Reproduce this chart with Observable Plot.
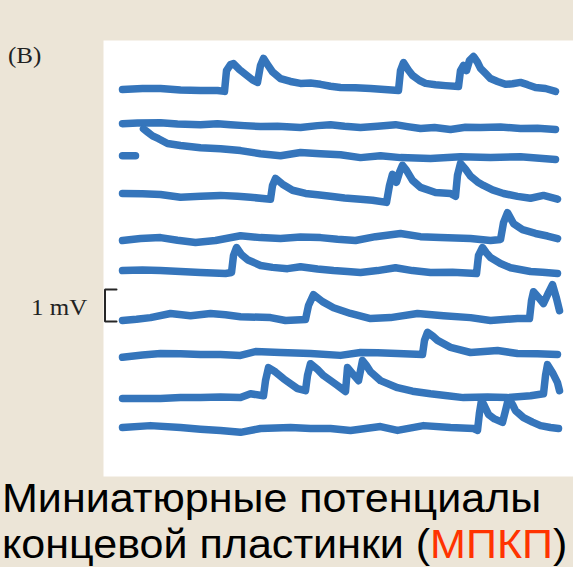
<!DOCTYPE html>
<html>
<head>
<meta charset="utf-8">
<script src="https://cdn.jsdelivr.net/npm/d3@7"></script>
<script src="https://cdn.jsdelivr.net/npm/@observablehq/plot@0.6"></script>
<style>
  html, body { margin: 0; padding: 0; background: #ece5d7; }
  #wrap { position: relative; width: 573px; height: 567px; overflow: hidden; background: #ece5d7; }
  #chart { position: absolute; left: 0; top: 0; }
  .lbl { position: absolute; font-family: "Liberation Serif", "DejaVu Serif", serif; font-size: 24px; line-height: 24px; color: #222; white-space: nowrap; transform: scaleX(1.04); transform-origin: left center; }
  #caption { position: absolute; left: 2px; top: 475px; font-family: "Liberation Sans", Arial, sans-serif; font-size: 41px; line-height: 46px; color: #000; white-space: nowrap; transform: scaleX(1.05); transform-origin: left top; }
  #caption .red { color: #ff3300; }
</style>
</head>
<body>
<div id="wrap">
  <div id="chart"></div>
  <div class="lbl" style="left:8px; top:43px;">(B)</div>
  <div class="lbl" style="left:31px; top:295px;">1 mV</div>
  <div id="caption">Миниатюрные потенциалы<br>концевой пластинки (<span class="red">МПКП</span>)</div>
</div>
<script>
// time in ms (sweep), voltage deviation in mV relative to each trace's baseline
const trace1 = [[0,0],[20,0.03],[38,0.03],[58,-0.02],[78,-0.03],[95,-0.03],[102,-0.06],[104,0.59],[108,0.78],[111,0.81],[117,0.62],[123,0.47],[130,0.3],[135,0.22],[138,0.75],[141,0.97],[145,0.78],[150,0.55],[158,0.34],[168,0.25],[178,0.19],[188,0.2],[198,0.16],[208,0.1],[218,0.06],[233,0.05],[248,0.03],[262,0.0],[276,-0.03],[278,0.59],[281,0.84],[286,0.6],[290,0.44],[297,0.28],[303,0.19],[313,0.15],[323,0.12],[336,0.09],[338,0.59],[341,0.75],[344,0.59],[347,0.91],[351,1.03],[355,0.85],[358,0.66],[363,0.5],[368,0.34],[375,0.25],[383,0.16],[390,0.18],[398,0.22],[405,0.15],[413,0.06],[423,0.03],[433,-0.06]];
const trace2 = [[0,0.06],[15,0.08],[38,0.09],[55,0.05],[78,0.03],[95,0.06],[108,0.03],[122,0.0],[138,-0.03],[155,-0.02],[178,-0.06],[195,0.0],[208,0.03],[222,-0.02],[238,-0.06],[255,-0.02],[273,0.03],[285,-0.03],[298,-0.09],[312,-0.06],[328,-0.12],[343,-0.05],[358,-0.06],[378,-0.04],[398,-0.09],[415,-0.08],[433,-0.12]];
const trace3 = [[0,0.06],[13,0.06],[18,null],[21,0.9],[25,0.8],[30,0.68],[36,0.59],[45,0.44],[58,0.38],[78,0.31],[98,0.28],[118,0.22],[138,0.12],[158,0.06],[178,0.16],[198,0.12],[218,0.09],[238,0],[258,0.06],[278,0],[308,-0.03],[338,0.03],[368,0],[398,0.03],[433,-0.06]];
const trace4 = [[0,0.09],[20,0.08],[38,0.06],[58,-0.03],[78,0.0],[98,0.03],[115,0.0],[128,-0.03],[148,-0.09],[150,0.34],[153,0.56],[160,0.38],[170,0.19],[183,0.09],[195,0.05],[208,0],[222,-0.05],[238,-0.09],[250,-0.12],[264,-0.19],[267,0.34],[270,0.69],[274,0.44],[277,0.75],[280,0.97],[284,0.81],[290,0.5],[298,0.28],[313,0.12],[328,0.09],[333,0],[335,0.66],[338,1.03],[343,0.85],[348,0.63],[355,0.45],[361,0.34],[370,0.2],[381,0.09],[395,0.0],[408,-0.06],[421,0.03],[435,-0.09]];
const trace5 = [[0,-0.06],[18,0],[38,0.03],[55,-0.05],[73,-0.12],[93,-0.06],[118,0.09],[138,0.03],[158,0],[178,0.05],[198,0.03],[215,-0.02],[233,-0.06],[253,0.06],[278,0.16],[298,0.06],[318,0.03],[348,0],[368,-0.06],[378,-0.03],[381,0.5],[385,0.81],[391,0.47],[400,0.28],[413,0.16],[425,0.08],[435,0]];
const trace6 = [[0,0],[20,0.02],[38,0],[58,-0.03],[78,-0.06],[103,-0.09],[109,-0.06],[111,0.47],[114,0.72],[119,0.5],[125,0.34],[138,0.16],[150,0.1],[165,0.06],[178,0.12],[195,0.05],[211,0],[225,-0.03],[238,-0.06],[255,0.0],[273,0.09],[290,0.0],[308,-0.06],[330,-0.05],[354,-0.09],[356,0.47],[360,0.72],[364,0.55],[368,0.41],[378,0.22],[388,0.09],[408,-0.03],[420,-0.05],[435,-0.09]];
const trace7 = [[0,-0.06],[14,-0.02],[28,0.03],[48,0.16],[68,0.09],[88,0.16],[103,0.12],[118,0.06],[148,0.03],[163,-0.06],[183,-0.03],[186,0.41],[191,0.75],[200,0.53],[211,0.34],[228,0.16],[248,0],[268,0.03],[295,0.16],[321,0.09],[348,0.03],[368,-0.06],[395,0],[407,0],[409,0.56],[411,0.84],[416,0.66],[421,0.47],[426,0.81],[430,1.06],[434,0.63],[437,0.25]];
const trace8 = [[0,-0.09],[20,-0.02],[38,0.03],[58,0.02],[78,0],[98,0.0],[118,-0.03],[133,0.09],[158,0.06],[188,0.03],[218,-0.03],[238,0.06],[255,0.05],[275,0.03],[300,0],[302,0.44],[305,0.69],[310,0.58],[315,0.44],[328,0.22],[348,0.06],[375,0.12],[395,0.03],[415,0.02],[435,0]];
const trace9 = [[0,-0.03],[38,-0.03],[58,0.0],[78,0],[98,0.02],[118,0],[128,0.12],[141,0.06],[143,0.53],[146,0.94],[153,0.8],[161,0.59],[175,0.28],[183,0.22],[185,0.69],[188,1.06],[195,0.88],[201,0.69],[215,0.38],[223,0.19],[225,0.94],[230,0.75],[236,0.53],[240,1.16],[244,1.0],[248,0.81],[258,0.53],[275,0.31],[290,0.2],[308,0.12],[325,0.06],[341,0],[365,0.02],[385,0],[408,0.06],[421,0.12],[423,0.69],[425,1.03],[430,0.78],[435,0.47],[437,0.22]];
const trace10 = [[0,0.03],[28,0.09],[58,0.03],[78,-0.02],[98,-0.06],[118,-0.12],[138,0],[168,0.03],[188,0],[208,0.0],[228,-0.06],[258,0.06],[275,-0.06],[301,0.09],[328,0.03],[351,0],[355,-0.06],[357,0.5],[359,0.88],[362,0.7],[366,0.44],[372,0.3],[380,0.19],[383,0.56],[386,0.94],[390,0.75],[393,0.56],[401,0.34],[410,0.2],[418,0.09],[428,0.03],[436,0]];

// vertical stacking of sweeps (mV)
const traceOffsets = [11.97, 10.84, 9.84, 8.63, 7.31, 6.31, 4.81, 3.69, 2.34, 1.375];
const traces = [trace1, trace2, trace3, trace4, trace5, trace6, trace7, trace8, trace9, trace10];

// calibration bar: 1 mV
const scaleBarMV = 1;
const scaleBarBase = 4.72;
const scaleBarTimes = [-6, -17.5];

const rows = traces.flatMap((tr, i) =>
  tr.map(([t, v]) => ({trace: i, t, y: v == null ? NaN : traceOffsets[i] + v}))
);

const bar = [
  {t: scaleBarTimes[0], y: scaleBarBase + scaleBarMV},
  {t: scaleBarTimes[1], y: scaleBarBase + scaleBarMV},
  {t: scaleBarTimes[1], y: scaleBarBase},
  {t: scaleBarTimes[0], y: scaleBarBase}
];

const chart = Plot.plot({
  width: 573,
  height: 476,
  marginLeft: 103,
  marginRight: 0,
  marginTop: 40,
  marginBottom: 0,
  style: {background: "transparent", overflow: "visible"},
  x: {domain: [-19, 451], axis: null},
  y: {domain: [-0.125, 13.5], axis: null},
  marks: [
    Plot.frame({fill: "white", stroke: "none"}),
    Plot.line(rows, {x: "t", y: "y", z: "trace", stroke: "#3575bb", strokeWidth: 7.5, strokeLinejoin: "round", strokeLinecap: "round", curve: "linear"}),
    Plot.line(bar, {x: "t", y: "y", stroke: "#262626", strokeWidth: 2, strokeLinejoin: "miter"})
  ]
});
document.getElementById("chart").appendChild(chart);
</script>
</body>
</html>
